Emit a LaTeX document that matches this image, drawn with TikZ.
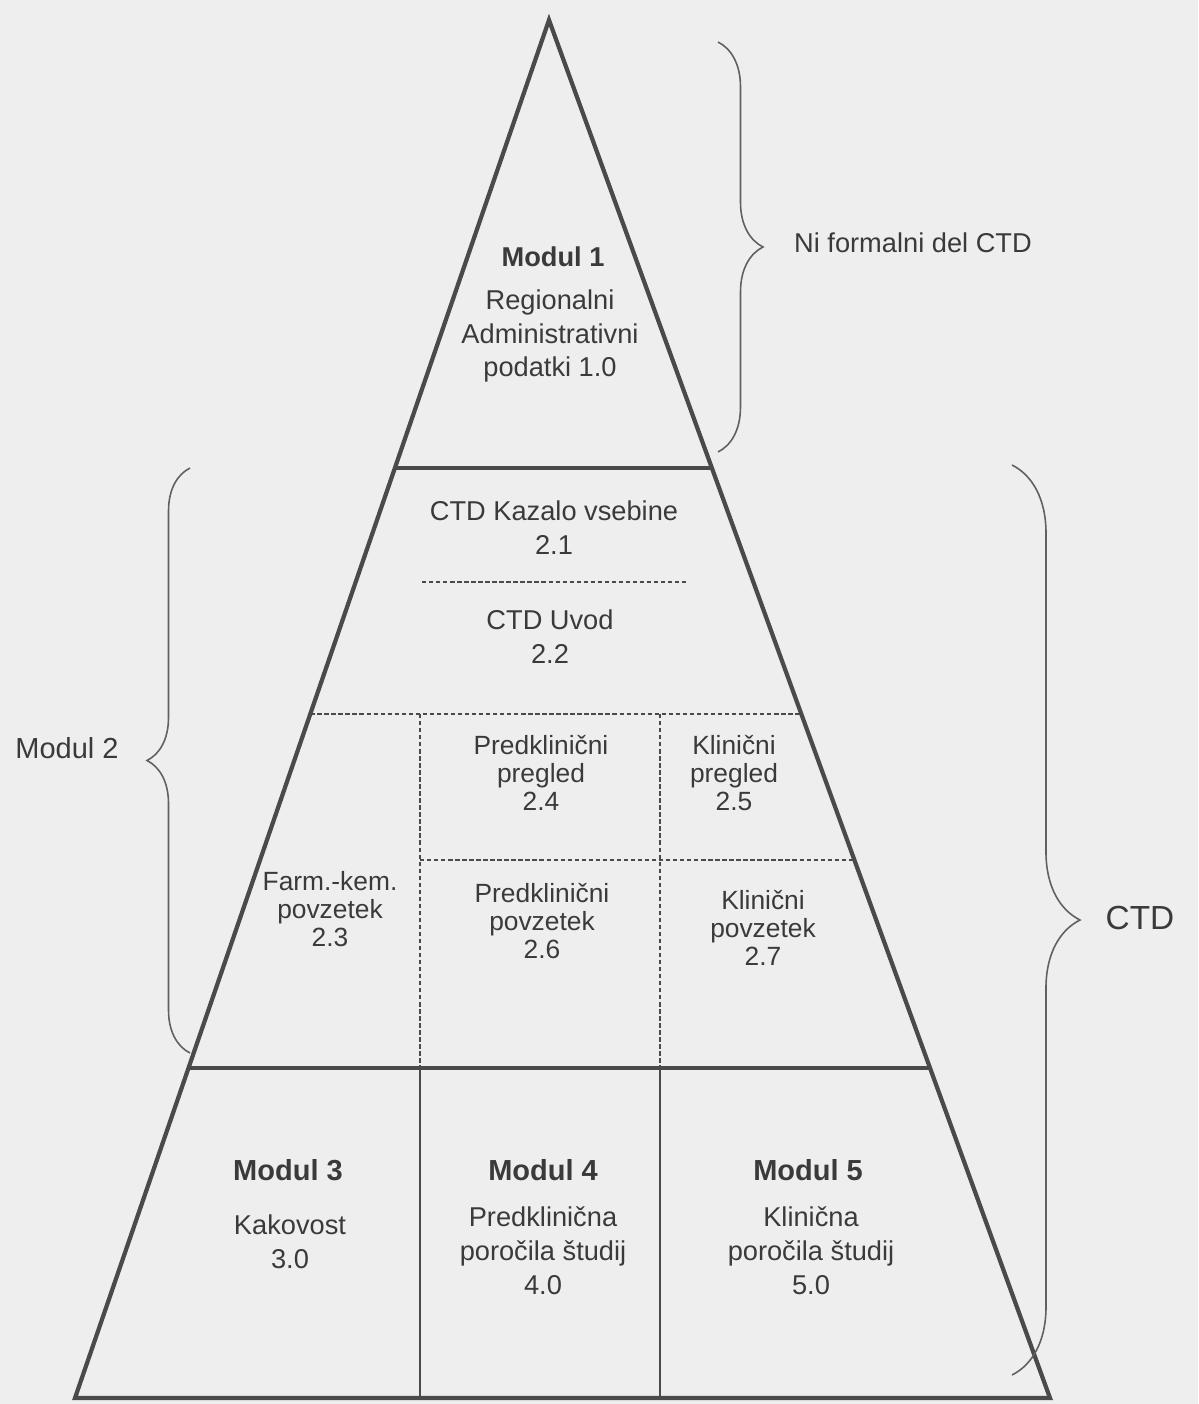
\documentclass[tikz,border=0pt]{standalone}
\usepackage{fontspec}
\setmainfont{Liberation Sans}
\usetikzlibrary{calc,decorations.pathreplacing}

\definecolor{inkgray}{HTML}{4A4A4A}
\definecolor{txtgray}{HTML}{3A3A3A}
\definecolor{paper}{HTML}{EEEEEE}

\tikzset{
  edge/.style={line width=2.4pt, draw=inkgray, line join=miter},
  sepline/.style={line width=2.6pt, draw=inkgray},
  thinline/.style={line width=0.8pt, draw=inkgray},
  dashline/.style={line width=0.7pt, draw=inkgray, dash pattern=on 2.5pt off 1.5pt},
  bracket/.style={line width=0.9pt, draw=gray!75!black, decorate, decoration={brace, amplitude=#1}},
  lbl/.style={text=txtgray, align=center, font=\fontsize{15.5}{19.3}\selectfont},
  cell/.style={text=txtgray, align=center, font=\fontsize{15}{16}\selectfont},
  modtitle/.style={text=txtgray, font=\bfseries\fontsize{15.5}{19}\selectfont},
  bigtitle/.style={text=txtgray, font=\bfseries\fontsize{16.5}{20}\selectfont}
}

\begin{document}
\begin{tikzpicture}[x=0.02cm, y=-0.02cm]

% page
\fill[paper] (0,0) rectangle (1198,1404);
\useasboundingbox (0,0) rectangle (1198,1404);

% PYRAMID

% corners
\coordinate (apex) at (549,20);
\coordinate (bl) at (75,1398);
\coordinate (br) at (1050,1398);

% points on the sides
\coordinate (s1l) at ($(apex)!0.3251!(bl)$);
\coordinate (s1r) at ($(apex)!0.3251!(br)$);
\coordinate (s2l) at ($(apex)!0.5036!(bl)$);
\coordinate (s2r) at ($(apex)!0.5036!(br)$);
\coordinate (s3r) at ($(apex)!0.6096!(br)$);
\coordinate (s4l) at ($(apex)!0.7605!(bl)$);
\coordinate (s4r) at ($(apex)!0.7605!(br)$);

% column x positions
\coordinate (colA) at (420,0);
\coordinate (colB) at (660,0);

% outline
\draw[edge] (bl) -- (apex) -- (br) -- cycle;

% module borders
\draw[sepline] (s1l) -- (s1r);
\draw[sepline] (s4l) -- (s4r);

% dashed grid of module 2
\coordinate (tocl) at (422,582);
\coordinate (tocr) at (686,582);
\draw[dashline] (tocl) -- (tocr);
\draw[dashline] (s2l) -- (s2r);
\draw[dashline] (colA |- s3r) -- (s3r);
\draw[dashline] (colA |- s2l) -- (colA |- s4l);
\draw[dashline] (colB |- s2l) -- (colB |- s4l);

% columns of modules 3-5
\draw[thinline] (colA |- s4l) -- (colA |- bl);
\draw[thinline] (colB |- s4l) -- (colB |- bl);

% MODULE TEXTS

% Modul 1
\node[modtitle] (mod1) at (553,257) {Modul 1};
\node[lbl] (mod1txt) at (550,336) {Regionalni\\Administrativni\\podatki 1.0};

% Modul 2
\node[lbl] (toc) at (554,528) {CTD Kazalo vsebine\\2.1};
\node[lbl] (intro) at (550,637) {CTD Uvod\\2.2};
\node[cell] (pcrev) at (541,773) {Predklinični\\pregled\\2.4};
\node[cell] (clrev) at (734,773) {Klinični\\pregled\\2.5};
\node[cell] (qsum) at (330,909) {Farm.-kem.\\povzetek\\2.3};
\node[cell] (pcsum) at (542,921) {Predklinični\\povzetek\\2.6};
\node[cell] (clsum) at (763,928) {Klinični\\povzetek\\2.7};

% Modul 3, 4, 5
\node[bigtitle] (mod3) at (288,1170) {Modul 3};
\node[lbl] (mod3txt) at (290,1242) {Kakovost\\3.0};
\node[bigtitle] (mod4) at (543,1170) {Modul 4};
\node[lbl] (mod4txt) at (543,1251) {Predklinična\\poročila študij\\4.0};
\node[bigtitle] (mod5) at (808,1170) {Modul 5};
\node[lbl] (mod5txt) at (811,1251) {Klinična\\poročila študij\\5.0};

% BRACES

% not part of CTD
\coordinate (nitop) at (718,42);
\coordinate (nibot) at (718,452);
\draw[bracket=0.9cm] (nitop) -- (nibot);
\node[lbl, anchor=west] (nilbl) at (788,243) {Ni formalni del CTD};

% Modul 2
\coordinate (m2top) at (190,468);
\coordinate (m2bot) at (190,1053);
\draw[bracket=0.86cm] (m2bot) -- (m2top);
\node[lbl, font=\fontsize{16.5}{20}\selectfont] (mod2) at (67,748) {Modul 2};

% CTD
\coordinate (ctdtop) at (1012,465);
\coordinate (ctdbot) at (1012,1375);
\draw[bracket=1.36cm] (ctdtop) -- (ctdbot);
\node[lbl, font=\fontsize{19}{22}\selectfont] (ctd) at (1140,918) {CTD};

\end{tikzpicture}
\end{document}
